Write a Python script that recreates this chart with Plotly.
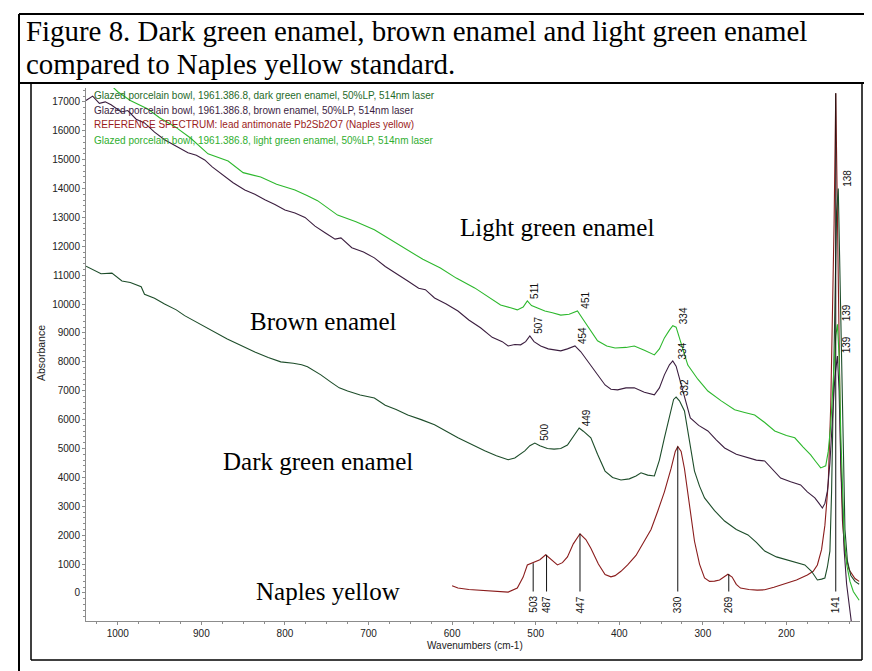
import plotly.graph_objects as go

# ---------------- data ----------------
dg_wn = [1038, 1030, 1020, 1007, 995, 985, 972, 968, 956, 944, 930, 920, 908, 895, 882, 869, 855, 836, 820, 805,
         790, 780, 773, 765, 757, 745, 735, 725, 710, 693, 680, 667, 653, 637, 621, 607, 593, 577, 561, 547,
         533, 525, 519, 513, 507, 501, 495, 486, 478, 470, 462, 455, 448, 443, 434, 426, 417, 408, 398, 388,
         380, 374, 366, 358, 352, 346, 340, 335, 332, 328, 322, 316, 310, 304, 298, 286, 274, 260, 246, 236,
         226, 212, 199, 188, 178, 170, 163, 158, 154, 151, 148, 146, 144, 142, 140, 138, 136, 134, 132, 130,
         127, 123, 118, 113]
dg_val = [11310, 11200, 11050, 11070, 10800, 10750, 10600, 10340, 10200, 10000, 9800, 9600, 9410, 9200, 9000, 8790, 8600, 8340, 8150, 8000,
          7950, 7900, 7830, 7700, 7550, 7300, 7100, 6990, 6850, 6750, 6500, 6350, 6160, 6000, 5820, 5600, 5370, 5150, 4920, 4750,
          4610, 4670, 4800, 4920, 5100, 5190, 5100, 5000, 4980, 5000, 5120, 5400, 5710, 5600, 5370, 4800, 4220, 4000, 3910, 3950,
          4050, 4160, 4080, 4050, 4600, 5370, 6100, 6700, 6780, 6650, 6300, 5300, 4220, 3700, 3290, 2850, 2490, 2200, 2010, 1750,
          1450, 1250, 1140, 1050, 970, 750, 450, 480, 520, 900, 1450, 3500, 7000, 10500, 13200, 14000, 11000, 7000, 4000, 2200,
          1100, 600, 400, 300]

br_wn = [1038, 1030, 1022, 1015, 1008, 996, 988, 978, 968, 956, 944, 930, 916, 906, 896, 887, 877, 862, 848, 836,
         824, 812, 800, 788, 776, 764, 752, 740, 733, 720, 706, 693, 680, 666, 653, 640, 632, 621, 607, 593,
         580, 566, 552, 540, 533, 525, 518, 512, 507, 502, 494, 485, 477, 470, 462, 453, 446, 438, 428, 417,
         410, 402, 392, 382, 370, 358, 352, 346, 340, 336, 332, 327, 321, 315, 305, 294, 284, 274, 260, 246,
         236, 226, 216, 207, 195, 183, 175, 166, 161, 157, 154, 151, 148, 145, 142, 139, 137, 135, 133, 131,
         128, 125, 122, 118, 113]
br_val = [17050, 17200, 16950, 17000, 16900, 16650, 16700, 16400, 16270, 15950, 15690, 15450, 15240, 15150, 14990, 14750, 14540, 14200, 13950, 13800,
          13610, 13450, 13260, 13150, 13000, 12700, 12470, 12250, 12290, 11950, 11800, 11600, 11300, 11050, 10800, 10550, 10500, 10210, 10000, 9760,
          9450, 9180, 8850, 8700, 8550, 8600, 8590, 8700, 8900, 8700, 8550, 8450, 8400, 8380, 8450, 8550, 8350, 8030, 7600, 7200,
          7050, 7030, 7100, 7100, 6950, 6860, 7100, 7550, 7900, 8030, 7850, 7340, 6700, 6060, 5800, 5610, 5300, 5020, 4800, 4670,
          4600, 4570, 4250, 3980, 3850, 3740, 3500, 3290, 3100, 2940, 3100, 3530, 4500, 5820, 7500, 8200, 7000, 4500, 2800, 1500,
          300, -500, -1200, -2000, -3000]

ny_wn = [600, 593, 580, 569, 555, 545, 533, 522, 515, 510, 503, 495, 488, 481, 474, 468, 462, 455, 447, 440,
         434, 425, 417, 410, 405, 398, 390, 380, 370, 362, 354, 346, 338, 333, 330, 326, 322, 318, 314, 310,
         304, 298, 292, 286, 280, 275, 270, 265, 260, 255, 245, 235, 226, 215, 205, 199, 188, 175, 168, 163,
         158, 154, 150, 147, 145, 143, 141, 139, 137, 135, 133, 130, 125, 118, 113]
ny_val = [250, 170, 120, 100, 60, 40, 30, 170, 550, 970, 1050, 1150, 1320, 1150, 970, 1050, 1250, 1700, 2050, 1850,
          1550, 1000, 640, 560, 600, 750, 970, 1300, 1790, 2200, 2830, 3500, 4310, 4900, 5070, 4900, 4300, 3520, 2600, 1790,
          1000, 520, 400, 410, 450, 550, 650, 550, 300, 170, 120, 100, 110, 200, 300, 340, 450, 620, 750, 970,
          1500, 2340, 3800, 6500, 9500, 12800, 17300, 13000, 8000, 4500, 2500, 1400, 800, 500, 400]

lg_wn = [1038, 1020, 1000, 985, 964, 950, 932, 913, 892, 868, 850, 829, 810, 788, 773, 761, 737, 715, 693, 675,
         653, 635, 614, 595, 573, 555, 542, 530, 522, 515, 510, 505, 497, 489, 480, 470, 460, 450, 444, 436,
         426, 415, 405, 392, 382, 370, 358, 352, 346, 340, 336, 332, 327, 318, 306, 294, 278, 262, 250, 238,
         226, 214, 200, 190, 180, 171, 165, 159, 153, 150, 147, 144, 141, 139, 137, 135, 133, 131, 128, 124,
         120, 113]
lg_val = [18300, 17900, 17350, 17050, 16750, 16450, 16150, 15750, 15200, 14950, 14550, 14400, 14150, 13950, 13750, 13580, 13080, 12850, 12570, 12250,
          11840, 11550, 11250, 10900, 10560, 10200, 9970, 9870, 9800, 9900, 10110, 9950, 9850, 9760, 9700, 9620, 9650, 9760, 9500, 9150,
          8730, 8550, 8480, 8500, 8550, 8400, 8240, 8450, 8830, 9100, 9250, 9200, 8730, 7890, 7400, 6990, 6650, 6340, 6250, 6160,
          5900, 5610, 5450, 5370, 5050, 4780, 4550, 4330, 4400, 4900, 5820, 7500, 8900, 9300, 8200, 5500, 3500, 2000, 1000, 400,
          50, -250]

# peak labels (wavenumber, height at label base)
lg_pk = [511, 451, 334, 139]
lg_pk_val = [10110, 9760, 9250, 9350]
br_pk = [507, 454, 334, 139]
br_pk_val = [8900, 8550, 8030, 8240]
dg_pk = [500, 449, 332, 138]
dg_pk_val = [5190, 5710, 6750, 14000]
ny_mark = [503, 487, 447, 330, 269, 141]
ny_mark_top = [1030, 1320, 2050, 5070, 650, 17300]

legend_lines = ["Glazed porcelain bowl, 1961.386.8, dark green enamel, 50%LP, 514nm laser",
                "Glazed porcelain bowl, 1961.386.8, brown enamel, 50%LP, 514nm laser",
                "REFERENCE SPECTRUM: lead antimonate Pb2Sb2O7 (Naples yellow)",
                "Glazed porcelain bowl, 1961.386.8, light green enamel, 50%LP, 514nm laser"]
legend_colors = ["#1f6b2a", "#3b1e3f", "#9b1c1c", "#2fae2f"]
series_names = ["Light green enamel", "Brown enamel", "Dark green enamel", "Naples yellow"]

# ---------------- layout geometry ----------------
W, H = 872, 671
L, R, T, B = 78, 852, 80, 613


def px(xp):
    return (xp - L) / (R - L)


def py(yp):
    return (B - yp) / (B - T)


C_DG, C_BR, C_NY, C_LG = "#1d4d2a", "#3b1e3f", "#8a1c1c", "#2db82d"

fig = go.Figure()
for wn, val, c in [(ny_wn, ny_val, C_NY), (dg_wn, dg_val, C_DG), (br_wn, br_val, C_BR), (lg_wn, lg_val, C_LG)]:
    fig.add_trace(go.Scatter(x=wn, y=val, mode="lines", line=dict(color=c, width=1.1),
                             hoverinfo="skip", showlegend=False))

# Naples marker lines
mx, my = [], []
for w, t in zip(ny_mark, ny_mark_top):
    mx += [w, w, None]
    my += [t, 50, None]
fig.add_trace(go.Scatter(x=mx, y=my, mode="lines", line=dict(color="#111", width=1),
                         hoverinfo="skip", showlegend=False))

ann = []
lab_font = dict(family="Liberation Sans, Arial", size=10, color="#111")
for pk, pv in [(lg_pk, lg_pk_val), (br_pk, br_pk_val), (dg_pk, dg_pk_val)]:
    for w, v in zip(pk, pv):
        ann.append(dict(x=w, y=v, xref="x", yref="y", text=str(w), textangle=-90, showarrow=False,
                        xanchor="left", yanchor="bottom", xshift=1, font=lab_font))
for w in ny_mark:
    ann.append(dict(x=w, y=0, xref="x", yref="y", text=str(w), textangle=-90, showarrow=False,
                    xanchor="center", yanchor="top", yshift=-1, font=lab_font))

# legend text lines
for i, (t, c) in enumerate(zip(legend_lines, legend_colors)):
    ann.append(dict(x=px(84), y=py(87 + 15 * i), xref="paper", yref="paper", text=t, showarrow=False,
                    xanchor="left", yanchor="middle", font=dict(family="Liberation Sans, Arial", size=10, color=c)))

# series names
serif = "Liberation Serif, Times New Roman, serif"
for name, (xx, yy) in zip(series_names, [(450, 219), (240, 313), (213, 453), (246, 583)]):
    ann.append(dict(x=px(xx), y=py(yy), xref="paper", yref="paper", text=name, showarrow=False,
                    xanchor="left", yanchor="middle", font=dict(family=serif, size=25, color="#000")))

# figure title
for txt, yy in [("Figure 8. Dark green enamel, brown enamel and light green enamel", 23),
                ("compared to Naples yellow standard.", 56)]:
    ann.append(dict(x=px(16), y=py(yy), xref="paper", yref="paper", text=txt, showarrow=False,
                    xanchor="left", yanchor="middle", font=dict(family=serif, size=28.9, color="#000")))

# axis titles
ann.append(dict(x=px(467), y=py(637), xref="paper", yref="paper", text="Wavenumbers (cm-1)", showarrow=False,
                xanchor="center", yanchor="middle", font=dict(family="Liberation Sans, Arial", size=10, color="#222")))
ann.append(dict(x=px(33), y=py(345), xref="paper", yref="paper", text="Absorbance", showarrow=False, textangle=-90,
                xanchor="center", yanchor="middle", font=dict(family="Liberation Sans, Arial", size=10.5, color="#222")))

# frames
shapes = []
def line(x0, y0, x1, y1, w):
    shapes.append(dict(type="line", xref="paper", yref="paper", x0=px(x0), y0=py(y0), x1=px(x1), y1=py(y1),
                       line=dict(color="#000", width=w)))
line(11, 6, 870, 6, 2)
line(11, 6, 11, 675, 2)
line(870, 6, 870, 675, 2)
line(11, 75, 870, 75, 2)
line(23, 75, 23, 652, 1.5)
line(854, 75, 854, 652, 1.5)
line(23, 652, 854, 652, 1.5)

axcol = "#8c8c8c"
tickfont = dict(family="Liberation Sans, Arial", size=10, color="#222")
fig.update_layout(
    width=W, height=H, margin=dict(l=L, r=W - R, t=T, b=H - B),
    paper_bgcolor="white", plot_bgcolor="white",
    annotations=ann, shapes=shapes,
    xaxis=dict(range=[1038, 112], showline=True, linecolor=axcol, linewidth=1, ticks="outside", ticklen=3,
               tickcolor=axcol, tick0=0, dtick=100, tickformat="d", tickfont=tickfont, showgrid=False, zeroline=False,
               minor=dict(dtick=25, ticks="outside", ticklen=2, tickcolor=axcol, showgrid=False)),
    yaxis=dict(range=[-970, 17480], showline=True, linecolor=axcol, linewidth=1, ticks="outside", ticklen=3,
               tickcolor=axcol, tick0=0, dtick=1000, tickformat="d", tickfont=tickfont, showgrid=False, zeroline=False,
               minor=dict(dtick=200, ticks="outside", ticklen=2, tickcolor=axcol, showgrid=False)),
)

fig.write_html("out.html")
